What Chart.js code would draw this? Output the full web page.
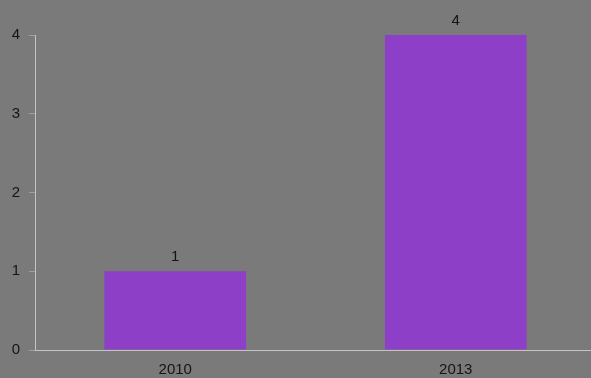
<!DOCTYPE html>
<html>
<head>
<meta charset="utf-8">
<script src="https://cdn.jsdelivr.net/npm/chart.js@4.4.1/dist/chart.umd.min.js"></script>
<style>
html,body{margin:0;padding:0;background:#7a7a7a;overflow:hidden;width:591px;height:378px;}
canvas{display:block;}
</style>
</head>
<body>
<canvas id="c" width="596" height="378"></canvas>
<script>
const categories = ["2010", "2013"];
const values = [1, 4];
const yTicks = [0, 1, 2, 3, 4];

const FONT = '"Liberation Sans", Arial, sans-serif';

const labelPlugin = {
  id: 'valueLabels',
  afterDatasetsDraw(chart) {
    const ctx = chart.ctx;
    const meta = chart.getDatasetMeta(0);
    ctx.save();
    ctx.fillStyle = '#141414';
    ctx.font = '15px ' + FONT;
    ctx.textAlign = 'center';
    ctx.textBaseline = 'bottom';
    meta.data.forEach((bar, i) => {
      ctx.fillText(String(values[i]), bar.x, bar.y - 7);
    });
    ctx.restore();
  }
};

new Chart(document.getElementById('c'), {
  type: 'bar',
  data: {
    labels: categories,
    datasets: [{
      data: values,
      backgroundColor: '#8d3fc8',
      borderWidth: 0,
      categoryPercentage: 1.0,
      barPercentage: 0.505
    }]
  },
  options: {
    responsive: false,
    animation: false,
    layout: { padding: { top: 35, right: 0, left: 0, bottom: 0 } },
    plugins: { legend: { display: false }, tooltip: { enabled: false } },
    scales: {
      x: {
        grid: { display: false, drawTicks: false },
        border: { display: true, color: '#c4c4c4', width: 1 },
        ticks: { color: '#141414', font: { size: 15, family: FONT }, padding: 11 },
        afterFit(s) { s.height = 28; }
      },
      y: {
        min: 0, max: 4,
        afterBuildTicks(s) { s.ticks = yTicks.map(v => ({ value: v })); },
        grid: { display: true, drawOnChartArea: false, drawTicks: true, tickLength: 6, color: '#a0a0a0' },
        border: { display: true, color: '#c4c4c4', width: 1 },
        ticks: { color: '#141414', font: { size: 15, family: FONT }, padding: 9 },
        afterFit(s) { s.width = 35; }
      }
    }
  },
  plugins: [labelPlugin]
});
</script>
</body>
</html>
